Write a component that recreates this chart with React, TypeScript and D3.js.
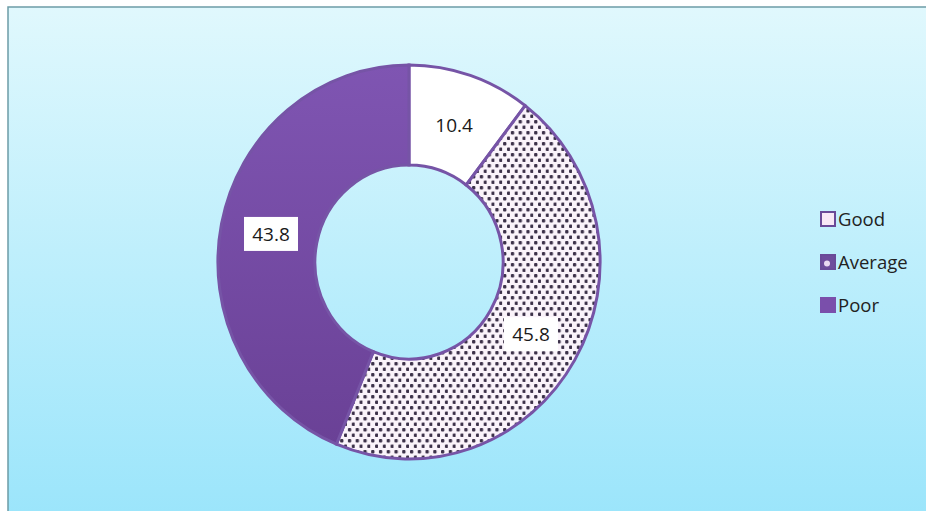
import React from "react";
import * as d3 from "d3";

const categories = ["Good", "Average", "Poor"];
const values = [10.4, 45.8, 43.8];

const W = 926;
const H = 511;

export default function App() {
  const cx = 409;
  const cy = 262;
  const sx = 0.97;
  const sy = 1.0;
  const outerR = 197;
  const innerR = 97;

  const pie = d3.pie<number>().sort(null).value((d) => d);
  const arcs = pie(values);
  const arcGen = d3.arc<d3.PieArcDatum<number>>().innerRadius(innerR).outerRadius(outerR);
  const labelArc = d3.arc<d3.PieArcDatum<number>>().innerRadius(145).outerRadius(145);

  const fills = ["#ffffff", "url(#dots)", "url(#poorGrad)"];

  return (
    <div style={{ position: "absolute", left: 0, top: 0, width: W, height: H }}>
      <svg width={W} height={H} style={{ display: "block" }}>
        <defs>
          <linearGradient id="bg" x1="0" y1="0" x2="0" y2="1">
            <stop offset="0" stopColor="#e0f8fd" />
            <stop offset="1" stopColor="#9be5fb" />
          </linearGradient>
          <linearGradient id="poorGrad" x1="0" y1="0" x2="0" y2="1">
            <stop offset="0" stopColor="#7f55b2" />
            <stop offset="1" stopColor="#6a4196" />
          </linearGradient>
          <pattern id="dots" width="8" height="11" patternUnits="userSpaceOnUse">
            <rect width="8" height="11" fill="#faf3fa" />
            <rect x="1" y="1" width="3.4" height="3.4" rx="1" fill="#3c3149" />
            <rect x="5" y="6.5" width="3.4" height="3.4" rx="1" fill="#3c3149" />
          </pattern>
        </defs>
        <rect x={8} y={7} width={W} height={H} fill="url(#bg)" stroke="#6c9ca6" strokeWidth={1.5} />
        <g transform={`translate(${cx},${cy}) scale(${sx},${sy})`}>
          {arcs.map((a, i) => (
            <path
              key={categories[i]}
              d={arcGen(a) ?? ""}
              fill={fills[i]}
              stroke="#7654a6"
              strokeWidth={3}
              vectorEffect="non-scaling-stroke"
            />
          ))}
        </g>
        {arcs.map((a, i) => {
          const [lx, ly] = labelArc.centroid(a);
          const x = cx + lx * sx;
          const y = cy + ly * sy;
          return (
            <g key={"l" + i} transform={`translate(${x},${y})`}>
              <rect x={-27} y={-17} width={54} height={34} fill="#ffffff" />
              <text
                textAnchor="middle"
                dy="0.36em"
                fontFamily="'Open Sans', 'Noto Sans', sans-serif"
                fontSize={19}
                fill="#1a1a1a"
              >
                {values[i].toFixed(1)}
              </text>
            </g>
          );
        })}
        {categories.map((c, i) => {
          const y = 219 + i * 43;
          const fill = i === 0 ? "#f8e8f6" : i === 1 ? "#6e4c9c" : "#7a4fab";
          return (
            <g key={c} transform={`translate(821,${y})`}>
              <rect
                x={0}
                y={-7}
                width={14}
                height={14}
                fill={fill}
                stroke={i === 2 ? "#7a4fab" : "#6a4a98"}
                strokeWidth={2}
              />
              {i === 1 && <circle cx={6} cy={1.5} r={3} fill="#ead9f2" />}
              <text
                x={17}
                dy="0.36em"
                fontFamily="'Open Sans', 'Noto Sans', sans-serif"
                fontSize={18.5}
                fill="#222"
              >
                {c}
              </text>
            </g>
          );
        })}
      </svg>
    </div>
  );
}
